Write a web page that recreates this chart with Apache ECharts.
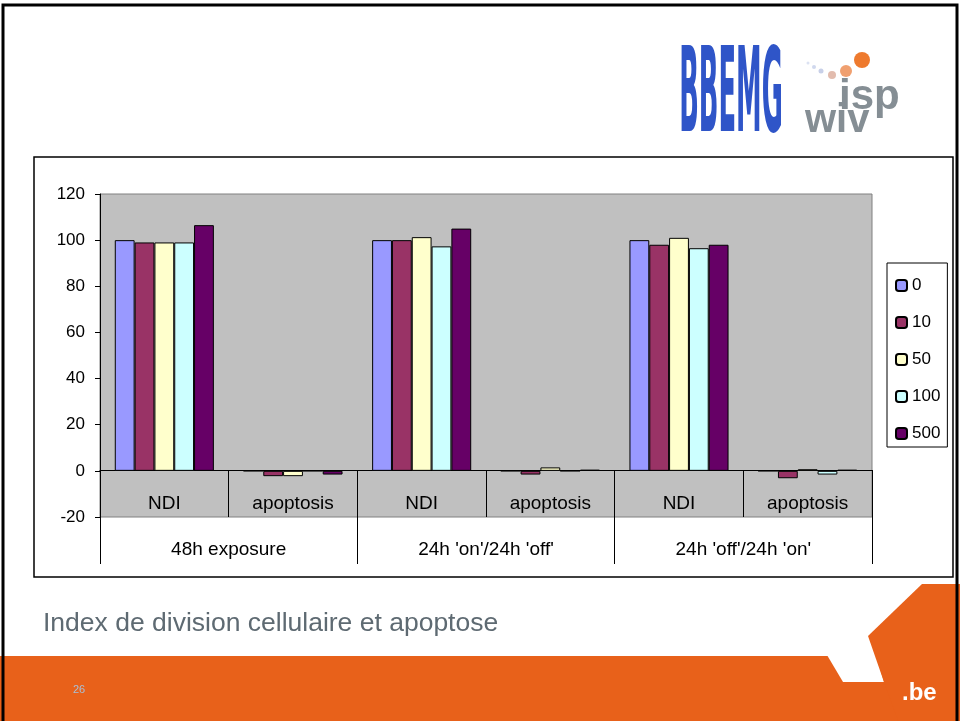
<!DOCTYPE html>
<html>
<head>
<meta charset="utf-8">
<script src="https://cdn.jsdelivr.net/npm/echarts@6/dist/echarts.min.js"></script>
<style>
html,body{margin:0;padding:0;background:#fff;}
#chart{width:960px;height:721px;}
</style>
</head>
<body>
<div id="chart"></div>
<script>
// ---- data ----
var categories = ['NDI', 'apoptosis', 'NDI', 'apoptosis', 'NDI', 'apoptosis'];
var groups = ['48h exposure', "24h 'on'/24h 'off'", "24h 'off'/24h 'on'"];
var seriesNames = ['0', '10', '50', '100', '500'];
var s0   = [100, 0, 100, 0, 100, 0];
var s10  = [99, -2.3, 100, -1.6, 98, -3.2];
var s50  = [99, -2.3, 101.3, 1.5, 101, 0.7];
var s100 = [99, 0, 97.3, 0, 96.5, -1.6];
var s500 = [106.5, -1.6, 105, 0.5, 98, 0.5];
var yTicks = [-20, 0, 20, 40, 60, 80, 100, 120];
var title = 'Index de division cellulaire et apoptose';
var pageNo = '26';

var colors = ['#9999FF', '#993366', '#FFFFCC', '#CCFFFF', '#660066'];
var values = [s0, s10, s50, s100, s500];
var FONT = '"Liberation Sans", Arial, sans-serif';

var chart = echarts.init(document.getElementById('chart'), null, {renderer: 'canvas'});

var series = seriesNames.map(function (n, i) {
  return {
    name: n, type: 'bar', xAxisIndex: 0, yAxisIndex: 0,
    data: values[i],
    barGap: '0%', barCategoryGap: '23%',
    itemStyle: {color: colors[i], borderColor: '#000', borderWidth: 1},
    emphasis: {disabled: true}
  };
});

var option = {
  animation: false,
  backgroundColor: '#ffffff',
  textStyle: {fontFamily: FONT},
  grid: {
    left: 100, right: 88, top: 194, bottom: 204,
    show: true, backgroundColor: '#C0C0C0', borderColor: '#808080', borderWidth: 1
  },
  legend: {
    orient: 'vertical', left: 887, top: 263,
    data: seriesNames,
    itemWidth: 11, itemHeight: 11, itemGap: 20, itemTextGap: 4,
    padding: [14, 7, 5, 8],
    borderColor: '#000', borderWidth: 1, backgroundColor: '#fff',
    selectedMode: false,
    textStyle: {fontFamily: FONT, fontSize: 17, color: '#000', lineHeight: 16}
  },
  xAxis: [
    {
      type: 'category', data: categories, position: 'bottom', offset: -47,
      axisLine: {show: true, onZero: false, lineStyle: {color: '#000', width: 1}},
      axisTick: {show: true, interval: 0, length: 47, lineStyle: {color: '#000', width: 1}},
      axisLabel: {interval: 0, margin: 24, fontSize: 19, color: '#000', fontFamily: FONT},
      splitLine: {show: false}
    },
    {
      type: 'category', data: groups, position: 'bottom',
      axisLine: {show: false, onZero: false},
      axisTick: {show: true, interval: 0, length: 47, lineStyle: {color: '#000', width: 1}},
      axisLabel: {interval: 0, margin: 23, fontSize: 19, color: '#000', fontFamily: FONT},
      splitLine: {show: false}
    }
  ],
  yAxis: {
    type: 'value', min: yTicks[0], max: yTicks[yTicks.length - 1], interval: 20,
    axisLine: {show: true, lineStyle: {color: '#000', width: 1}},
    axisTick: {show: true, length: 5, lineStyle: {color: '#000'}},
    axisLabel: {margin: 15, fontSize: 17, color: '#000', fontFamily: FONT},
    splitLine: {show: false}
  },
  series: series,
  graphic: [
    // slide frame
    {type: 'rect', z: 100, silent: true, shape: {x: 3, y: 5, width: 954, height: 718},
     style: {fill: null, stroke: '#000', lineWidth: 3}},
    // chart frame
    {type: 'rect', z: 50, silent: true, shape: {x: 34, y: 157, width: 919, height: 420},
     style: {fill: null, stroke: '#000', lineWidth: 1.5}},
    // footer band
    {type: 'rect', z: 1, silent: true, shape: {x: 0, y: 656, width: 960, height: 70},
     style: {fill: '#E8611A'}},
    // white wedge
    {type: 'polygon', z: 2, silent: true,
     shape: {points: [[827, 655], [843, 682], [884, 682], [870, 634], [827, 634]]},
     style: {fill: '#fff'}},
    // orange hexagon
    {type: 'polygon', z: 3, silent: true,
     shape: {points: [[868, 636], [922, 584], [970, 584], [970, 726], [900, 726], [884, 682]]},
     style: {fill: '#E8611A'}},
    // title
    {type: 'text', z: 5, silent: true, left: 43, top: 610,
     style: {text: title, fontSize: 26.5, fill: '#5E6A72', fontFamily: FONT}},
    // page number
    {type: 'text', z: 5, silent: true, left: 73, top: 684,
     style: {text: pageNo, fontSize: 11, fill: '#A9C0D6', fontFamily: FONT}},
    // .be
    {type: 'text', z: 5, silent: true, left: 902, top: 681,
     style: {text: '.be', fontSize: 24, fontWeight: 'bold', fill: '#fff', fontFamily: FONT}},
    // BBEMG logo
    {type: 'text', z: 5, silent: true, x: 731, y: 100, scaleX: 0.92, scaleY: 4.2,
     style: {text: 'BBEMG', fontSize: 28, fontWeight: 'bold', fill: '#2F55C8',
             fontFamily: '"DejaVu Sans", sans-serif', align: 'center', verticalAlign: 'middle'}},
    // isp wiv logo
    {type: 'text', z: 5, silent: true, left: 839, top: 76,
     style: {text: 'isp', fontSize: 42, fontWeight: 'bold', fill: '#858E94', fontFamily: FONT}},
    {type: 'text', z: 5, silent: true, left: 805, top: 101,
     style: {text: 'wiv', fontSize: 40, fontWeight: 'bold', fill: '#858E94', fontFamily: FONT}},
    {type: 'circle', z: 5, silent: true, shape: {cx: 862, cy: 60, r: 8}, style: {fill: '#EE7A2E'}},
    {type: 'circle', z: 5, silent: true, shape: {cx: 846, cy: 71, r: 6}, style: {fill: '#F0A070'}},
    {type: 'circle', z: 5, silent: true, shape: {cx: 832, cy: 75, r: 4}, style: {fill: '#E2BCAE'}},
    {type: 'circle', z: 5, silent: true, shape: {cx: 821, cy: 71, r: 2.5}, style: {fill: '#C8D0E8'}},
    {type: 'circle', z: 5, silent: true, shape: {cx: 814, cy: 67, r: 2}, style: {fill: '#D0D8EE'}},
    {type: 'circle', z: 5, silent: true, shape: {cx: 808, cy: 63, r: 1.5}, style: {fill: '#DCE2F2'}}
  ]
};
chart.setOption(option);
</script>
</body>
</html>
